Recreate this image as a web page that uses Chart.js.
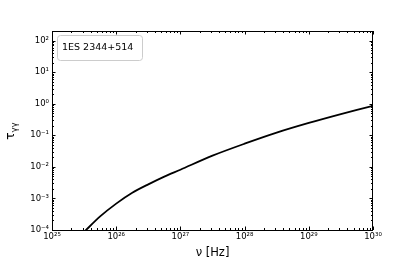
<!DOCTYPE html>
<html>
<head>
<meta charset="utf-8">
<script src="https://cdn.jsdelivr.net/npm/chart.js@4.4.1/dist/chart.umd.min.js"></script>
<style>
  html, body { margin: 0; padding: 0; background: #fff; }
  canvas { display: block; }
</style>
</head>
<body>
<canvas id="tau-chart" width="415" height="260"></canvas>
<script>
// values
const nuHz = [3.16e25, 5.62e25, 1e26, 1.78e26, 3.16e26, 5.62e26, 1e27, 3.16e27, 1e28, 3.16e28, 1e29, 3.16e29, 1e30];
const tauGG = [8.7e-5, 2.69e-4, 6.84e-4, 1.51e-3, 2.79e-3, 4.9e-3, 8.1e-3, 0.0226, 0.054, 0.121, 0.245, 0.468, 0.857];
const xDecades = [25, 26, 27, 28, 29, 30];
const yDecades = [-4, -3, -2, -1, 0, 1, 2];
const sourceName = '1ES 2344+514';

const FONT = 'DejaVu Sans';
const supMap = {'0': '⁰', '1': '¹', '2': '²', '3': '³', '4': '⁴', '5': '⁵', '6': '⁶', '7': '⁷', '8': '⁸', '9': '⁹', '-': '⁻'};
function powLabel(v) {
    const e = Math.round(Math.log10(v));
    return '10' + String(e).split('').map(c => supMap[c]).join('');
}

// matplotlib style frame, inward ticks, legend box and y label
const framePlugin = {
    id: 'frame',
    afterDatasetsDraw(chart) {
        const c = chart.ctx;
        const a = chart.chartArea;
        const xs = chart.scales.x, ys = chart.scales.y;
        c.save();
        c.strokeStyle = '#000';
        c.lineWidth = 1;
        c.beginPath();
        // x ticks top + bottom
        for (let d = xDecades[0]; d <= xDecades[xDecades.length - 1]; d++) {
            for (let k = 1; k <= 9; k++) {
                const v = k * Math.pow(10, d);
                if (v > xs.max * 1.0001) break;
                const px = Math.round(xs.getPixelForValue(v)) + 0.5;
                const len = k === 1 ? 3.5 : 2;
                c.moveTo(px, a.bottom); c.lineTo(px, a.bottom - len);
                c.moveTo(px, a.top); c.lineTo(px, a.top + len);
            }
        }
        // y ticks left + right
        for (let d = yDecades[0]; d <= yDecades[yDecades.length - 1]; d++) {
            for (let k = 1; k <= 9; k++) {
                const v = k * Math.pow(10, d);
                if (v > ys.max) break;
                const py = Math.round(ys.getPixelForValue(v)) + 0.5;
                const len = k === 1 ? 3.5 : 2;
                c.moveTo(a.left, py); c.lineTo(a.left + len, py);
                c.moveTo(a.right, py); c.lineTo(a.right - len, py);
            }
        }
        c.stroke();
        c.strokeRect(a.left + 0.5, a.top + 0.5, a.right - a.left - 1, a.bottom - a.top);

        // legend
        c.fillStyle = 'rgba(255,255,255,0.8)';
        c.strokeStyle = '#cccccc';
        c.beginPath();
        c.roundRect(a.left + 5.5, a.top + 4.5, 85, 25, 3);
        c.fill();
        c.stroke();
        c.fillStyle = '#000';
        c.font = '9.5px "' + FONT + '"';
        c.textBaseline = 'middle';
        c.fillText(sourceName, a.left + 10, a.top + 17);

        // y axis label tau_gamma gamma
        c.translate(14, 131);
        c.rotate(-Math.PI / 2);
        c.textBaseline = 'alphabetic';
        c.font = '12px "' + FONT + '"';
        const w1 = c.measureText('τ').width;
        c.font = '8.5px "' + FONT + '"';
        const w2 = c.measureText('γγ').width;
        const x0 = -(w1 + w2) / 2;
        c.font = '12px "' + FONT + '"';
        c.fillText('τ', x0, 0);
        c.font = '8.5px "' + FONT + '"';
        c.fillText('γγ', x0 + w1, 2.5);
        c.restore();
    }
};

const ctx = document.getElementById('tau-chart').getContext('2d');
const tauChart = new Chart(ctx, {
    type: 'line',
    data: {
        datasets: [{
            data: nuHz.map((x, i) => ({x: x, y: tauGG[i]})),
            borderColor: '#000',
            borderWidth: 1.8,
            pointRadius: 0,
            fill: false,
            tension: 0.3,
        }],
    },
    options: {
        responsive: false,
        animation: false,
        devicePixelRatio: 1,
        layout: { padding: { left: 0, right: 42, top: 31, bottom: 0 } },
        plugins: { legend: { display: false }, tooltip: { enabled: false } },
        scales: {
            x: {
                type: 'logarithmic',
                min: 1e25,
                max: 1e30,
                afterBuildTicks: s => { s.ticks = xDecades.map(d => ({value: Math.pow(10, d)})); },
                afterFit: s => { s.height = 30; },
                grid: { display: false, drawTicks: false },
                border: { display: false },
                ticks: {
                    callback: v => powLabel(v),
                    color: '#000',
                    font: { family: FONT, size: 8.5 },
                    padding: 2,
                    maxRotation: 0,
                    autoSkip: false,
                },
                title: {
                    display: true,
                    text: 'ν [Hz]',
                    color: '#000',
                    font: { family: FONT, size: 11.5 },
                    padding: { top: 0, bottom: 0 },
                },
            },
            y: {
                type: 'logarithmic',
                min: 1e-4,
                max: 200,
                afterBuildTicks: s => { s.ticks = yDecades.map(d => ({value: Math.pow(10, d)})); },
                afterFit: s => { s.width = 52; },
                grid: { display: false, drawTicks: false },
                border: { display: false },
                ticks: {
                    callback: v => powLabel(v),
                    color: '#000',
                    font: { family: FONT, size: 8.5 },
                    padding: 3,
                    autoSkip: false,
                },
            },
        },
    },
    plugins: [framePlugin],
});
</script>
</body>
</html>
